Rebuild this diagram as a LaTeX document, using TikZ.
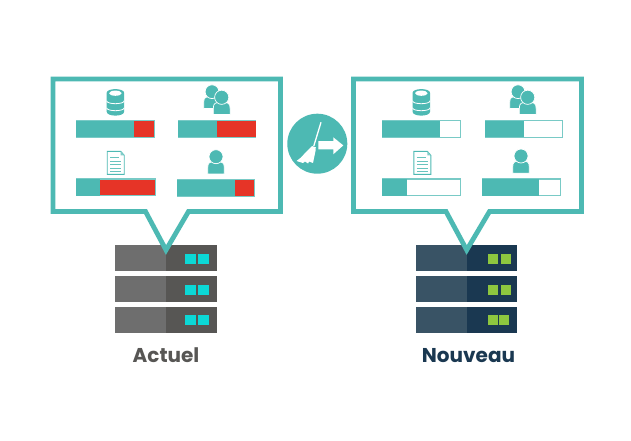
\documentclass[tikz,border=0pt]{standalone}
\usepackage{fontspec}
\setmainfont{Poppins}
\definecolor{teal1}{HTML}{4DB9B3}
\definecolor{red1}{HTML}{E63427}
\definecolor{gl}{HTML}{6E6E6E}
\definecolor{gd}{HTML}{575654}
\definecolor{cy}{HTML}{0CD8D6}
\definecolor{nl}{HTML}{395365}
\definecolor{nd}{HTML}{1A3851}
\definecolor{gr}{HTML}{8DC63F}
\tikzset{
 bubble/.style={draw=teal1,line width=4.8pt,miter limit=10,fill=white,line join=miter},
 wline/.style={draw=white,line width=0.8pt},
 label/.style={inner sep=0pt,anchor=base,font=\bfseries\fontsize{20}{20}\selectfont},
}
% icons
\newcommand{\dbicon}[2]{\begin{scope}[shift={(#1,#2)}]
 \fill[teal1] (-8.8,4) .. controls (-8.8,-1.2) and (8.8,-1.2) .. (8.8,4) -- (8.8,22.5) .. controls (8.8,28) and (-8.8,28) .. (-8.8,22.5) -- cycle;
 \fill[white] (0,4.2) ellipse[x radius=6.3pt,y radius=2.6pt];
 \draw[wline] (-8.8,11.7) .. controls (-8.8,15.7) and (8.8,15.7) .. (8.8,11.7);
 \draw[wline] (-8.8,18.7) .. controls (-8.8,22.7) and (8.8,22.7) .. (8.8,18.7);
\end{scope}}
\newcommand{\personbody}[5]{% cx, cy head, r, bottom, halfwidth
 \path[fill=teal1,draw=white,line width=0.7pt] (#1-#5,#4) -- (#1-#5,#4-6) .. controls (#1-#5,#2+#3-1.5) and (#1-#5+2,#2+#3-2) .. (#1,#2+#3-2) .. controls (#1+#5-2,#2+#3-2) and (#1+#5,#2+#3-1.5) .. (#1+#5,#4-6) -- (#1+#5,#4) -- cycle;
 \fill[teal1,draw=white,line width=0.7pt] (#1,#2) circle[radius=#3];}
\newcommand{\usersicon}[2]{\begin{scope}[shift={(#1,#2)}]
 \personbody{0}{0}{6.9}{16.8}{8.3}
 \begin{scope}[shift={(9.7,5.6)}]
 \personbody{0}{0}{7.1}{17.2}{8.4}
 \end{scope}
\end{scope}}
\newcommand{\usericon}[2]{\begin{scope}[shift={(#1,#2)}]
 \personbody{0}{0}{7}{17.2}{8.3}
\end{scope}}
\newcommand{\docicon}[2]{\begin{scope}[shift={(#1,#2)}]
 \draw[teal1,line width=0.9pt,fill=white] (0,0) -- (13.5,0) -- (17,4) -- (17,23) -- (0,23) -- cycle;
 \fill[teal1!70] (13.5,0) -- (17,4) -- (13.5,4) -- cycle;
 \foreach \yy/\xx in {6/12,10/14,13.5/14,17/14,20/14}
   \draw[teal1!85,line width=1pt] (3,\yy) -- (\xx,\yy);
\end{scope}}
\newcommand{\fullbar}[7]{% x0 x1 y0 y1 rx0 rx1 color
 \fill[teal1!75] (#1,#3) rectangle (#2,#4);
 \fill[teal1] (#1,#3+0.6) rectangle (#5,#4-0.4);
 \fill[#7] (#5,#3+1.4) rectangle (#6,#4-0.9);}
\newcommand{\serverrow}[6]{% x0 xm x1 y cl cd
 \fill[#5] (#1,#4) rectangle (#2,#4+25.7);
 \fill[#6] (#2,#4) rectangle (#3,#4+25.7);}
\begin{document}
\begin{tikzpicture}[x=1pt,y=-1pt]
\useasboundingbox (0,0) rectangle (631,441);
\fill[white] (0,0) rectangle (631,441);
% servers left
\foreach \yy in {245.3,276.3,307}{
 \serverrow{115.3}{165.7}{217}{\yy}{gl}{gd}
 \fill[cy] (185.1,\yy+8.4) rectangle +(10.5,10);
 \fill[cy] (198.4,\yy+8.4) rectangle +(10.3,10);
}
% servers right
\foreach \yy/\xb in {245.3/500.8,276.3/500.8,307/498.8}{
 \serverrow{416}{466.7}{517.3}{\yy}{nl}{nd}
 \fill[gr] (487.5,\yy+8.4) rectangle +(10.5,10);
 \fill[gr] (\xb,\yy+8.4) rectangle +(10.3,10);
}
% bubbles
\draw[bubble] (53,79) -- (280.5,79) -- (280.5,211.5) -- (188.5,211.5) -- (166,250) -- (145.5,211.5) -- (53,211.5) -- cycle;
\draw[bubble] (353.5,79) -- (581.5,79) -- (581.5,211.5) -- (489.5,211.5) -- (466.7,250) -- (446,211.5) -- (353.5,211.5) -- cycle;
% left bars
\fullbar{76}{154.7}{120}{137.7}{133.7}{154}{red1}
\fullbar{177.7}{256.3}{120}{137.7}{217}{255.7}{red1}
\fullbar{76}{155.7}{178.3}{196}{100.3}{154.7}{red1}
\fullbar{177}{255.3}{179}{196.7}{235}{254}{red1}
% right bars
\fullbar{382.3}{460.7}{120}{137.7}{440.3}{460}{white}
\fullbar{484.7}{563}{120}{137.7}{524}{562.3}{white}
\fullbar{382.3}{460.7}{178.3}{196}{406.7}{460}{white}
\fullbar{482}{560.7}{178.3}{196}{539.3}{560}{white}
% icons
\dbicon{115.4}{89}
\dbicon{421.3}{89}
\usersicon{212}{91.7}
\usersicon{518}{91.7}
\docicon{107.2}{151.3}
\docicon{413.8}{151.3}
\usericon{216}{156.7}
\usericon{521}{156}
% circle with broom
\node[circle,fill=teal1,minimum size=60pt,inner sep=0pt] (clean) at (317.3,143.7) {};
\draw[white,line width=1.3pt] (321,122.3) -- (313.8,146);
\fill[white] (312,146) -- (315.8,147.3) -- (315.5,151) -- (313,163) -- (309,161.5) -- (308,163.5) -- (305,161.5) -- (303,163) -- (296.5,161) -- (301,157.5) -- (306,152) -- cycle;
\fill[white] (318.3,141) -- (333.3,141) -- (333.3,137.3) -- (343.3,145.4) -- (333.3,154.3) -- (333.3,149.3) -- (318.3,149.3) -- cycle;
% labels
\node[label,text=gd] (actuel) at (166,362.5) {Actuel};
\node[label,text=nd] (nouveau) at (468.5,362.5) {Nouveau};
\end{tikzpicture}
\end{document}
